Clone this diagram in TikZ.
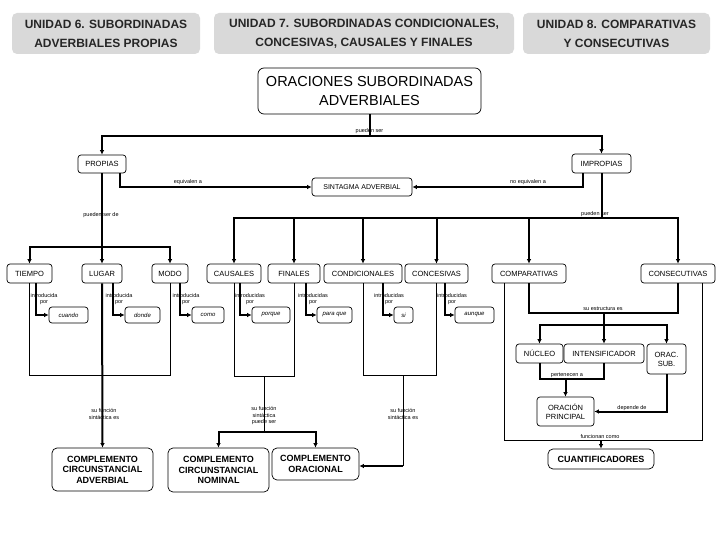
\documentclass[tikz,border=0pt]{standalone}
\usepackage{fontspec}
\setmainfont{Liberation Sans}
\usetikzlibrary{arrows.meta,calc}
\definecolor{gfill}{HTML}{D9D9D9}
\definecolor{gtext}{HTML}{262626}
\begin{document}
\begin{tikzpicture}[x=1pt,y=-1pt,
  box/.style={draw, rounded corners=3pt, line width=0.7pt, inner sep=0pt, align=center, font=\fontsize{7.5}{9}\selectfont},
  bbox/.style={box, rounded corners=5pt, font=\bfseries\fontsize{9}{10.5}\selectfont},
  sbox/.style={box, font=\itshape\fontsize{6}{7}\selectfont},
  gbox/.style={fill=gfill, rounded corners=5pt, inner sep=0pt, align=center, text=gtext, font=\bfseries\fontsize{12}{19}\selectfont},
  conn/.style={line width=2pt},
  conm/.style={line width=1.5pt},
  thinl/.style={line width=0.8pt},
  arr/.style={-{Latex[length=4.5pt,width=4.5pt]}},
  lbl/.style={inner sep=0pt, align=center, font=\fontsize{5.5}{6.5}\selectfont}
]
\useasboundingbox (0,0) rectangle (720,540);

% top grey boxes
\node[gbox, minimum width=188pt, minimum height=41pt] (u6) at (106,33.5) {UNIDAD 6. SUBORDINADAS\\ADVERBIALES PROPIAS};
\node[gbox, minimum width=300pt, minimum height=41pt] (u7) at (364,33.5) {UNIDAD 7. SUBORDINADAS CONDICIONALES,\\CONCESIVAS, CAUSALES Y FINALES};
\node[gbox, minimum width=187pt, minimum height=41pt] (u8) at (616.5,33.5) {UNIDAD 8. COMPARATIVAS\\Y CONSECUTIVAS};

% main node
\node[box, minimum width=223pt, minimum height=46pt, rounded corners=6pt, font=\fontsize{14.5}{19}\selectfont] (orac) at (369.5,91) {ORACIONES SUBORDINADAS\\ADVERBIALES};

\node[box, minimum width=48pt, minimum height=18pt] (propias) at (102,164) {PROPIAS};
\node[box, minimum width=59pt, minimum height=19pt] (impropias) at (601.5,163.5) {IMPROPIAS};
\node[box, minimum width=100pt, minimum height=18pt, font=\fontsize{7}{8}\selectfont] (sintagma) at (362,187) {SINTAGMA ADVERBIAL};

% second level
\node[box, minimum width=45pt, minimum height=19pt] (tiempo) at (29.5,273.5) {TIEMPO};
\node[box, minimum width=40pt, minimum height=19pt] (lugar) at (102,273.5) {LUGAR};
\node[box, minimum width=36pt, minimum height=19pt] (modo) at (170,273.5) {MODO};
\node[box, minimum width=54pt, minimum height=19pt] (causales) at (234,273.5) {CAUSALES};
\node[box, minimum width=52pt, minimum height=19pt] (finales) at (294,273.5) {FINALES};
\node[box, minimum width=78pt, minimum height=19pt] (condicionales) at (363,273.5) {CONDICIONALES};
\node[box, minimum width=63pt, minimum height=19pt] (concesivas) at (436.5,273.5) {CONCESIVAS};
\node[box, minimum width=74pt, minimum height=19pt] (comparativas) at (529,273.5) {COMPARATIVAS};
\node[box, minimum width=74pt, minimum height=19pt] (consecutivas) at (678,273.5) {CONSECUTIVAS};

% connectives
\node[sbox, minimum width=39pt, minimum height=16pt] (cuando) at (68.5,315) {cuando};
\node[sbox, minimum width=35pt, minimum height=16pt] (donde) at (142.5,315) {donde};
\node[sbox, minimum width=32pt, minimum height=16pt] (como) at (208,315) {como};
\node[sbox, minimum width=38pt, minimum height=16pt] (porque) at (271,315) {porque};
\node[sbox, minimum width=35pt, minimum height=16pt] (paraque) at (334.5,315) {para que};
\node[sbox, minimum width=19pt, minimum height=16pt] (si) at (403.5,315) {si};
\node[sbox, minimum width=39pt, minimum height=16pt] (aunque) at (474.5,315) {aunque};

% comparative / consecutive structure
\node[box, minimum width=47pt, minimum height=19pt] (nucleo) at (539.5,353.5) {NÚCLEO};
\node[box, minimum width=80pt, minimum height=19pt] (intens) at (604,353.5) {INTENSIFICADOR};
\node[box, minimum width=39pt, minimum height=30pt] (oracsub) at (666.5,359) {ORAC.\\SUB.};
\node[box, minimum width=57pt, minimum height=29pt] (oracprin) at (565.5,411.5) {ORACIÓN\\PRINCIPAL};
\node[bbox, minimum width=106pt, minimum height=20pt] (cuant) at (601,459) {CUANTIFICADORES};

% complements
\node[bbox, minimum width=101pt, minimum height=43pt] (cca) at (102.5,469.5) {COMPLEMENTO\\CIRCUNSTANCIAL\\ADVERBIAL};
\node[bbox, minimum width=101pt, minimum height=44pt] (ccn) at (218.5,470) {COMPLEMENTO\\CIRCUNSTANCIAL\\NOMINAL};
\node[bbox, minimum width=87pt, minimum height=32pt] (co) at (315.5,464) {COMPLEMENTO\\ORACIONAL};

% ---- connectors ----
\coordinate (j1) at (369.5,136);
\draw[conn] (orac.south) -- (j1);
\draw[conn,arr] (j1) -| (propias.north);
\draw[conn,arr] (j1) -| (impropias.north);
\node[lbl] at (369.5,131) {pueden ser};

\draw[conn,arr] ([xshift=18pt]propias.south) |- (sintagma.west);
\node[lbl] at (188,182) {equivalen a};
\draw[conn,arr] ([xshift=-18.5pt]impropias.south) |- (sintagma.east);
\node[lbl] at (528,182) {no equivalen a};

\coordinate (j2) at (102,247);
\draw[conn] (propias.south) -- (j2);
\draw[conn,arr] (j2) -| (tiempo.north);
\draw[conn,arr] (j2) -- (lugar.north);
\draw[conn,arr] (j2) -| (modo.north);
\node[lbl] at (101,215) {pueden ser de};

\coordinate (j3) at (601.5,218);
\draw[conn] (impropias.south) -- (j3);
\draw[conn,arr] (j3) -| (causales.north);
\draw[conn,arr] (j3) -| (finales.north);
\draw[conn,arr] (j3) -| (condicionales.north);
\draw[conn,arr] (j3) -| (concesivas.north);
\draw[conn,arr] (j3) -| (comparativas.north);
\draw[conn,arr] (j3) -| (consecutivas.north);
\node[lbl] at (595,214) {pueden ser};

% introducida(s) por
\draw[conm,arr] ([xshift=6.5pt]tiempo.south) |- (cuando.west);
\draw[conm,arr] ([xshift=11pt]lugar.south) |- (donde.west);
\draw[conm,arr] ([xshift=10pt]modo.south) |- (como.west);
\draw[conm,arr] ([xshift=6pt]causales.south) |- (porque.west);
\draw[conm,arr] ([xshift=12pt]finales.south) |- (paraque.west);
\draw[conm,arr] ([xshift=20pt]condicionales.south) |- (si.west);
\draw[conm,arr] ([xshift=8.5pt]concesivas.south) |- (aunque.west);
\node[lbl] at (44,299) {introducida\\por};
\node[lbl] at (119,299) {introducida\\por};
\node[lbl] at (186,299) {introducida\\por};
\node[lbl] at (250,299) {introducidas\\por};
\node[lbl] at (313,299) {introducidas\\por};
\node[lbl] at (389,299) {introducidas\\por};
\node[lbl] at (452,299) {introducidas\\por};

% propias group
\draw[thinl] (tiempo.south) -- ++(0,92) -| (modo.south);
\draw[conn,arr] (lugar.south) -- (cca.north);
\node[lbl] at (104,414) {su función\\sintáctica es};

% causales / finales group
\draw[thinl] (causales.south) -- ++(0,93) -| (finales.south);
\coordinate (c1) at (264,376.5);
\coordinate (c2) at (264,432);
\draw[thinl] (c1) -- (c2);
\draw[conn,arr] (c2) -| (ccn.north);
\draw[conn,arr] (c2) -| (co.north);
\node[lbl] at (264,416) {su función\\sintáctica\\puede ser};

% condicionales / concesivas group
\draw[thinl] (condicionales.south) -- ++(0,92) -| (concesivas.south);
\coordinate (d1) at (403,375.5);
\coordinate (d2) at (403,466);
\draw[thinl] (d1) -- (d2);
\draw[conn,arr] (d2) -- (co.east |- d2);
\node[lbl] at (403,414) {su función\\sintáctica es};

% comparativas / consecutivas group
\coordinate (k1) at (504,440);
\coordinate (k2) at (702,440);
\draw[thinl] ([xshift=-25pt]comparativas.south) -- (k1) -- (k2) -- ([xshift=24pt]consecutivas.south);
\draw[conn] (comparativas.south) -- ++(0,29.5) -| (consecutivas.south);
\coordinate (e1) at (604,313);
\coordinate (e2) at (604,325);
\draw[conn] (e1) -- (e2);
\draw[conn,arr] (e2) -| (nucleo.north);
\draw[conn,arr] (e2) -- (intens.north);
\draw[conn,arr] (e2) -| (oracsub.north);
\node[lbl] at (603,309) {su estructura es};

\draw[conn] (nucleo.south) -- ++(0,16) -| (intens.south);
\coordinate (f1) at (565.5,379);
\draw[conn,arr] (f1) -- (oracprin.north);
\node[lbl] at (567,375.5) {pertenecen a};

\draw[conn,arr] (oracsub.south) |- (oracprin.east);
\node[lbl] at (632,408) {depende de};

\coordinate (g1) at (601,440);
\draw[conn,arr] (g1) -- (cuant.north);
\node[lbl] at (600,436.5) {funcionan como};
\end{tikzpicture}
\end{document}
